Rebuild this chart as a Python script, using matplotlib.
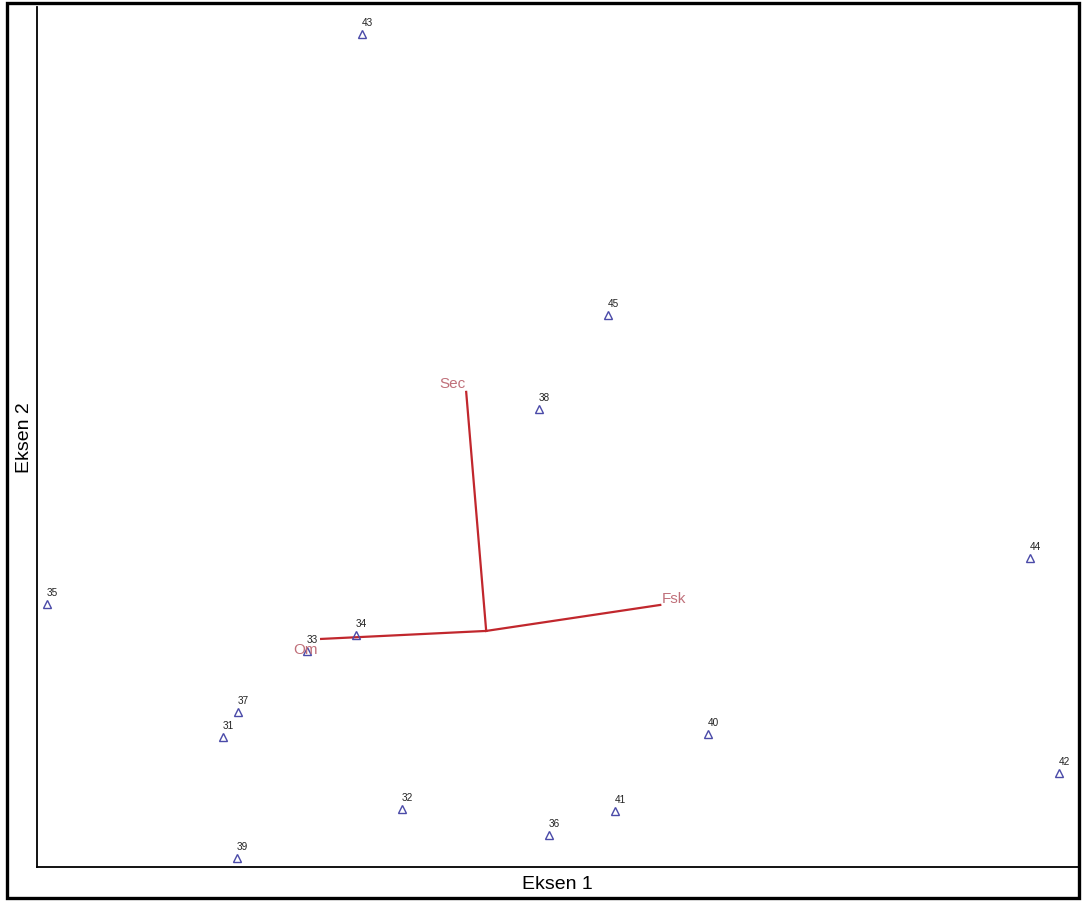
import matplotlib.pyplot as plt
from matplotlib.patches import Rectangle

plt.rcParams['font.family'] = ['Liberation Sans', 'DejaVu Sans']

# sample scores on the two ordination axes
samples = ['43', '45', '38', '44', '35', '34', '33', '37', '31', '40', '42', '32', '41', '36', '39']
ax1 = [325, 571, 502, 993, 10, 319, 270, 201, 186, 671, 1022, 365, 578, 512, 200]
ax2 = [833, 552, 458, 309, 263, 232, 216, 155, 130, 133, 94, 58, 56, 32, 9]

# environmental variable vectors (origin and tips)
origin = (449, 236)
variables = ['Sec', 'Fsk', 'Om']
var_x = [429, 623, 284]
var_y = [475, 262, 228]

fig = plt.figure(figsize=(10.82, 9.03), dpi=100)
ax = fig.add_axes([0.0342, 0.0388, 0.9625, 0.9525])
ax.set_xlim(0, 1041)
ax.set_ylim(0, 860)

for x, y in zip(var_x, var_y):
    ax.plot([origin[0], x], [origin[1], y], color='#c1272d', lw=1.6, zorder=2)

ax.plot(ax1, ax2, linestyle='none', marker='^', markersize=6,
        markerfacecolor='none', markeredgecolor='#4a4aa8', markeredgewidth=1.0, zorder=3)
for s, x, y in zip(samples, ax1, ax2):
    ax.annotate(s, (x, y), xytext=(5, 12), textcoords='offset pixels',
                ha='center', va='center', fontsize=7.2, color='#222222')

label_off = {'Sec': (-14, 9, 'center'), 'Fsk': (14, 7, 'center'), 'Om': (-16, -10, 'center')}
for v, x, y in zip(variables, var_x, var_y):
    dx, dy, ha = label_off[v]
    ax.annotate(v, (x, y), xytext=(dx, dy), textcoords='offset pixels',
                ha=ha, va='center', fontsize=11, color='#c0707a')

ax.set_xticks([])
ax.set_yticks([])
for side in ['top', 'right']:
    ax.spines[side].set_visible(False)
for side in ['left', 'bottom']:
    ax.spines[side].set_linewidth(1.3)
ax.set_xlabel('Eksen 1', fontsize=14, labelpad=6)
ax.set_ylabel('Eksen 2', fontsize=14, labelpad=3)

# frame around the whole figure
fig.patches.append(Rectangle((7 / 1082, 4 / 903), 1072 / 1082, 895 / 903,
                             transform=fig.transFigure, fill=False,
                             edgecolor='black', linewidth=2.4))

fig.savefig('out.png', dpi=100)
